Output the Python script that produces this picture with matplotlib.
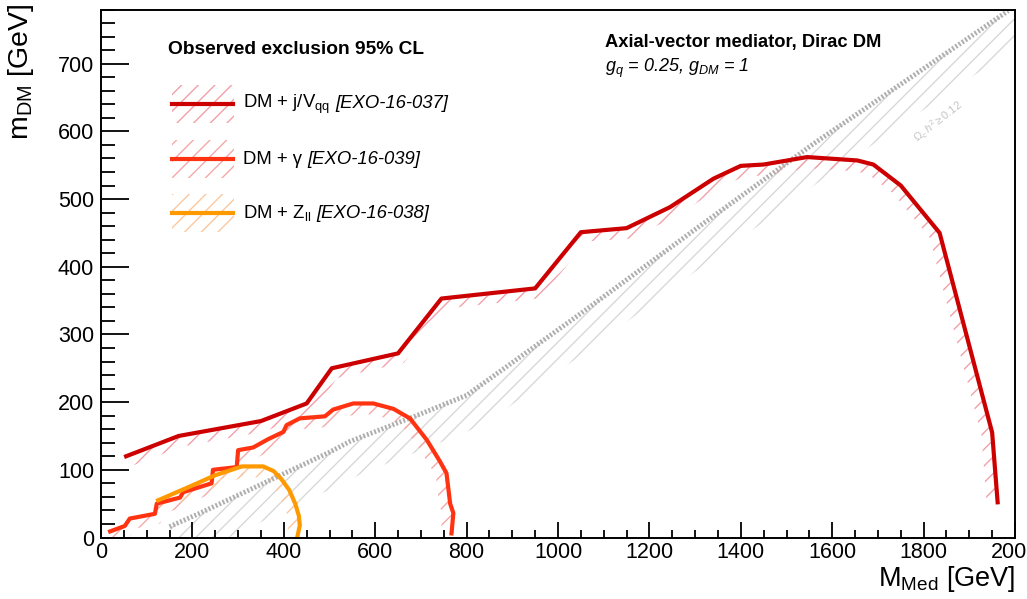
import numpy as np
import matplotlib
matplotlib.use("Agg")
import matplotlib.pyplot as plt
from matplotlib.patches import Polygon, Rectangle
from matplotlib.lines import Line2D

plt.rcParams["font.family"] = ["Liberation Sans", "DejaVu Sans"]
plt.rcParams["mathtext.fontset"] = "custom"
plt.rcParams["mathtext.rm"] = "Liberation Sans"
plt.rcParams["mathtext.it"] = "Liberation Sans:italic"
plt.rcParams["mathtext.bf"] = "Liberation Sans:bold"
plt.rcParams["hatch.linewidth"] = 1.0

# ---- data ----
jet_x = [55, 170, 350, 450, 505, 650, 745, 950, 1050, 1150, 1245, 1340, 1400,
         1450, 1545, 1655, 1690, 1750, 1835, 1950, 1962]
jet_y = [120, 150, 172, 198, 250, 272, 353, 368, 451, 457, 488, 530, 549,
         551, 562, 557, 551, 520, 450, 155, 52]

pho_x = [20, 52, 63, 118, 122, 173, 180, 242, 245, 297, 300, 333, 365, 399,
         406, 435, 490, 508, 552, 596, 640, 676, 713, 742, 756, 764, 771, 767]
pho_y = [9, 17, 28, 35, 50, 59, 67, 80, 100, 104, 129, 133, 145, 156,
         166, 176, 179, 189, 198, 198, 190, 176, 144, 112, 95, 50, 36, 6]

zll_x = [125, 190, 250, 308, 355, 378, 395, 412, 425, 433, 435, 430]
zll_y = [55, 74, 92, 105, 105, 98, 86, 70, 50, 32, 18, 2]

relic_x = [150, 220, 500, 545, 690, 800, 1050, 1310, 1560, 1985]
relic_y = [16, 37, 126, 142, 180, 210, 331, 460, 582, 778]

leg_labels = [r"DM + j/V$_{\mathregular{qq}}$", "DM + γ", r"DM + Z$_{\mathregular{ll}}$"]
leg_refs = ["[EXO-16-037]", "[EXO-16-039]", "[EXO-16-038]"]

W, H = 1027, 599
fig = plt.figure(figsize=(W / 100, H / 100), dpi=100)
ax = fig.add_axes([101 / W, 1 - 537.5 / H, (1015 - 101) / W, (537.5 - 9.5) / H])
ax.set_xlim(0, 2000)
ax.set_ylim(0, 780)


def band(x, y, width, color, hatch="//"):
    # hatched strip on the right-hand side of the curve, built in pixel space
    pts = ax.transData.transform(np.column_stack([x, y]))
    d = np.gradient(pts, axis=0)
    n = np.column_stack([d[:, 1], -d[:, 0]])
    n /= np.linalg.norm(n, axis=1)[:, None]
    off = pts + n * width
    poly = ax.transData.inverted().transform(np.vstack([pts, off[::-1]]))
    ax.add_patch(Polygon(poly, closed=True, facecolor="none", edgecolor=color,
                         lw=0, hatch=hatch))


# relic density line and its hatch
band(relic_x, relic_y, 34, "#d8d8d8", hatch="//")
ax.plot(relic_x, relic_y, color="#aeaeae", lw=3.5, ls=(0, (0.4, 0.4)))
ax.text(1832, 614, r"$\Omega_c\,h^2 \geq 0.12$", color="#c4c4c4", fontsize=8,
        rotation=38, ha="center", va="center")

# exclusion contours
line_cols = ["#cc0000", "#ff3311", "#ff9900"]
hatch_cols = ["#f2a0aa", "#f5a8a8", "#f9c8a0"]
for (x, y), lc, hc in zip([(jet_x, jet_y), (pho_x, pho_y), (zll_x, zll_y)], line_cols, hatch_cols):
    band(x, y, 11, hc)
for (x, y), lc in zip([(jet_x, jet_y), (pho_x, pho_y), (zll_x, zll_y)], line_cols):
    ax.plot(x, y, color=lc, lw=3)

# axes style (ROOT-like)
ax.set_xticks(np.arange(0, 2001, 200))
ax.set_xticks(np.arange(0, 2001, 50), minor=True)
ax.set_yticks(np.arange(0, 701, 100))
ax.set_yticks(np.arange(0, 781, 20), minor=True)
ax.tick_params(axis="both", which="both", direction="in", width=1.3,
               labelsize=15.5, top=False, right=False)
ax.tick_params(axis="x", which="major", length=11.5, pad=3)
ax.tick_params(axis="x", which="minor", length=6)
ax.tick_params(axis="y", which="major", length=20, pad=5)
ax.tick_params(axis="y", which="minor", length=10)
for s in ax.spines.values():
    s.set_linewidth(1.4)


def fx(px):
    return px / W


def fy(py):
    return 1 - py / H


fig.text(fx(21), fy(3), r"m$_{\mathregular{DM}}$ [GeV]", rotation=90,
         ha="center", va="top", fontsize=20.5)
fig.text(fx(1015), fy(579), r"M$_{\mathregular{Med}}$ [GeV]",
         ha="right", va="center", fontsize=19.5)

# legend
fig.text(fx(168), fy(50), "Observed exclusion 95% CL", fontweight="bold",
         fontsize=13.8, ha="left", va="center")
renderer = fig.canvas.get_renderer()
for lab, ref, lc, hc, py in zip(leg_labels, leg_refs, line_cols, hatch_cols, [104, 159, 213]):
    fig.add_artist(Rectangle((fx(172), fy(py + 19)), fx(234) - fx(172), fy(py - 19) - fy(py + 19),
                             transform=fig.transFigure, facecolor="none", edgecolor=hc,
                             lw=0, hatch="//"))
    fig.add_artist(Line2D([fx(172), fx(233)], [fy(py), fy(py)], color=lc, lw=3,
                          transform=fig.transFigure))
    t = fig.text(fx(243), fy(py), lab, fontsize=13.3, ha="left", va="center")
    x1 = t.get_window_extent(renderer).x1
    fig.text(fx(x1 + 5), fy(py), ref, fontsize=13.3, style="italic", ha="left", va="center")

# model text
fig.text(fx(605), fy(43), "Axial-vector mediator, Dirac DM", fontweight="bold",
         fontsize=13.2, ha="left", va="center")
fig.text(fx(605), fy(68), r"$g_{q}$ = 0.25, $g_{DM}$ = 1", style="italic",
         fontsize=13, ha="left", va="center")

fig.savefig("out.png", dpi=100)
